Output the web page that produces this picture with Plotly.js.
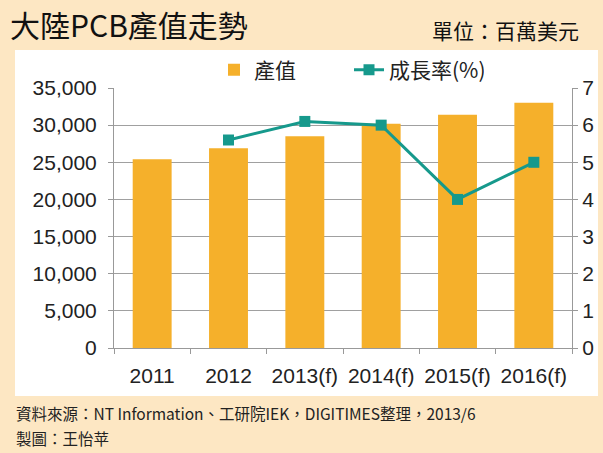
<!DOCTYPE html>
<html>
<head>
<meta charset="utf-8">
<script src="https://cdn.plot.ly/plotly-3.0.1.min.js"></script>
<style>
  html, body { margin: 0; padding: 0; background: #fde7c3; }
  #chart { width: 603px; height: 453px; }
</style>
</head>
<body>
<div id="chart"></div>
<script>
// 年度與數值（百萬美元、%）
const years = ['2011', '2012', '2013(f)', '2014(f)', '2015(f)', '2016(f)'];
const outputValue = [25400, 26900, 28500, 30200, 31400, 33000];
const growthYears = ['2012', '2013(f)', '2014(f)', '2015(f)', '2016(f)'];
const growthRate = [5.6, 6.1, 6.0, 4.0, 5.0];

const FONT = 'Liberation Sans, Arial, "Noto Sans CJK TC", sans-serif';
const CJK = '"Noto Sans CJK TC", "Noto Sans CJK SC", sans-serif';

// pixel -> paper helpers (plot area 114..572 x 88..348)
const L = 114, R = 31, T = 88, B = 105;
const PW = 603 - L - R, PH = 453 - T - B;
const px = x => (x - L) / PW;
const py = y => (453 - B - y) / PH;

let data = [
    {
        x: years,
        y: outputValue,
        type: 'bar',
        name: '產值',
        width: 0.51,
        marker: { color: '#f5b02b' },
        yaxis: 'y'
    },
    {
        x: growthYears,
        y: growthRate,
        type: 'scatter',
        mode: 'lines+markers',
        name: '成長率(%)',
        line: { color: '#16998c', width: 3 },
        marker: { symbol: 'square', size: 11, color: '#16998c' },
        yaxis: 'y2'
    }
];

let layout = {
    width: 603,
    height: 453,
    margin: { l: L, r: R, t: T, b: B },
    paper_bgcolor: '#fde7c3',
    plot_bgcolor: 'rgba(0,0,0,0)',
    font: { family: FONT, color: '#222' },
    showlegend: true,
    legend: {
        orientation: 'h',
        x: px(214), xanchor: 'left',
        y: py(70), yanchor: 'middle',
        font: { family: CJK, size: 21, color: '#222' },
        bgcolor: 'rgba(0,0,0,0)',
        itemwidth: 30,
        entrywidth: 90
    },
    xaxis: {
        type: 'category',
        tickson: 'boundaries',
        ticks: 'outside',
        ticklen: 5,
        tickcolor: '#999',
        showline: true,
        linecolor: '#999',
        tickfont: { family: FONT, size: 21, color: '#222' },
        ticklabelstandoff: 9,
        fixedrange: true
    },
    yaxis: {
        range: [0, 35000],
        dtick: 5000,
        tickformat: ',d',
        showgrid: true,
        gridcolor: '#a0a0a0',
        gridwidth: 1,
        showline: true,
        linecolor: '#999',
        ticks: 'outside',
        ticklen: 5,
        tickcolor: '#999',
        zeroline: false,
        tickfont: { family: FONT, size: 21, color: '#222' },
        ticklabelstandoff: 7
    },
    yaxis2: {
        range: [0, 7],
        dtick: 1,
        overlaying: 'y',
        side: 'right',
        showgrid: false,
        showline: true,
        linecolor: '#999',
        ticks: 'outside',
        ticklen: 5,
        tickcolor: '#999',
        zeroline: false,
        tickfont: { family: FONT, size: 21, color: '#222' }
    },
    shapes: [
        {
            type: 'rect', xref: 'paper', yref: 'paper', layer: 'below',
            x0: px(15), x1: px(598), y0: py(396), y1: py(50),
            fillcolor: '#ffffff', line: { width: 0 }
        }
    ],
    annotations: [
        {
            text: '大陸PCB產值走勢', xref: 'paper', yref: 'paper',
            x: px(8), y: py(24), xanchor: 'left', yanchor: 'middle',
            showarrow: false, font: { family: CJK, size: 30, color: '#111' }
        },
        {
            text: '單位：百萬美元', xref: 'paper', yref: 'paper',
            x: px(581), y: py(30), xanchor: 'right', yanchor: 'middle',
            showarrow: false, font: { family: CJK, size: 21, color: '#111' }
        },
        {
            text: '資料來源：NT Information、工研院IEK，DIGITIMES整理，2013/6',
            xref: 'paper', yref: 'paper',
            x: px(14), y: py(413), xanchor: 'left', yanchor: 'middle',
            showarrow: false, font: { family: CJK, size: 15.5, color: '#222' }
        },
        {
            text: '製圖：王怡苹', xref: 'paper', yref: 'paper',
            x: px(14), y: py(438), xanchor: 'left', yanchor: 'middle',
            showarrow: false, font: { family: CJK, size: 15.5, color: '#222' }
        }
    ]
};

let config = { displayModeBar: false, staticPlot: true };

Plotly.newPlot('chart', data, layout, config);
</script>
</body>
</html>
